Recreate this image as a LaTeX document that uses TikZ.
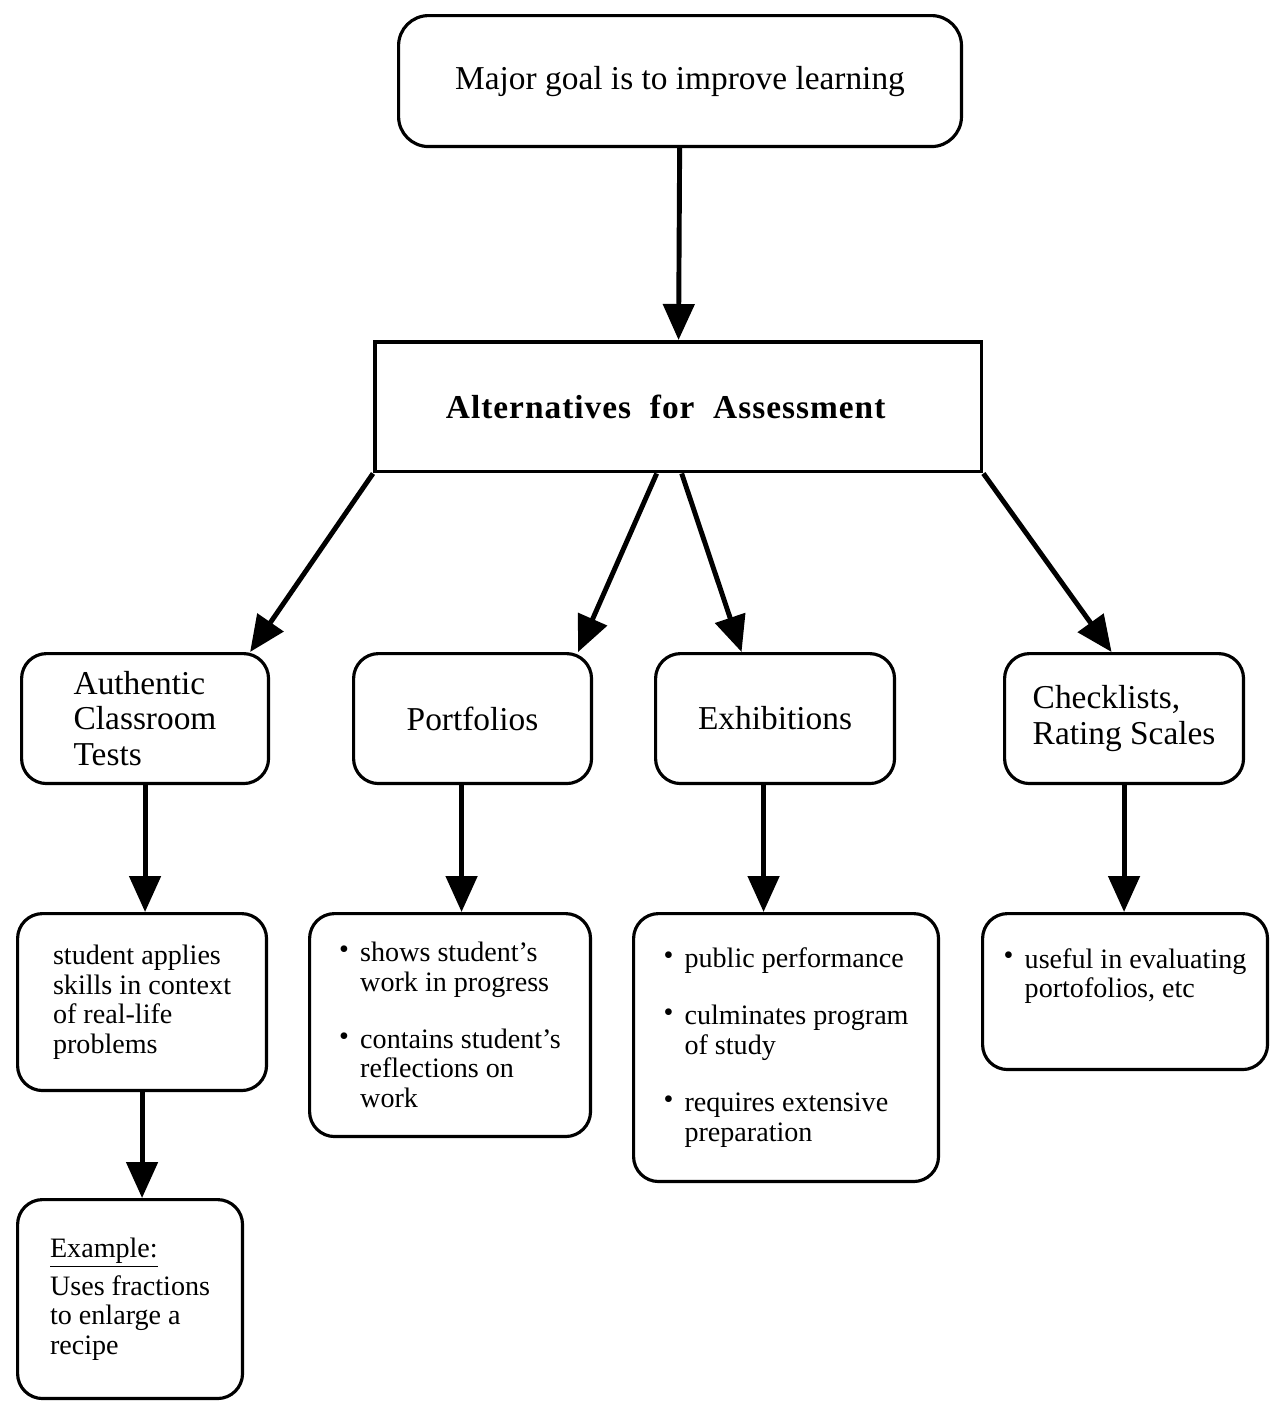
\documentclass[tikz,border=0pt]{standalone}
\usepackage{fontspec}
\setmainfont{Liberation Serif}
\usetikzlibrary{arrows.meta,positioning}
\tikzset{every picture/.style={line width=0.75pt}}

\newcommand{\bul}{\makebox[0.42cm][l]{\raisebox{0.25ex}{\textbullet}}}
\newcommand{\ind}{\hspace*{0.42cm}}

\begin{document}
\begin{tikzpicture}[x=0.02cm, y=-0.02cm,
    rbox/.style={draw, line width=1.8pt, rounded corners=0.5cm, anchor=north west, align=left, inner sep=0pt},
    big/.style={font=\fontsize{19}{20}\selectfont},
    small/.style={font=\fontsize{16}{16.8}\selectfont},
    arr/.style={-{Triangle[length=0.72cm,width=0.62cm]}, line width=2.8pt}]
    \useasboundingbox (0,0) rectangle (1272,1407);

    \node[rbox, big, rounded corners=0.6cm, minimum width=11.26cm, minimum height=2.62cm] (goal) at (397,14) {Major goal is to improve learning};
    \node[rbox, rounded corners=0pt, line width=2pt, minimum width=12.14cm, minimum height=2.6cm,
          font=\fontsize{19}{20}\selectfont\bfseries\addfontfeature{LetterSpace=3}] (alt) at (373,340) {Alternatives\ \ for\ \ Assessment\hspace*{0.5cm}};

    \node[rbox, big, minimum width=4.94cm, minimum height=2.6cm] (auth) at (20,652) {Authentic\\Classroom\\Tests};
    \node[rbox, big, minimum width=4.76cm, minimum height=2.6cm] (port) at (352,652) {Portfolios};
    \node[rbox, big, minimum width=4.78cm, minimum height=2.6cm] (exh) at (654,652) {Exhibitions};
    \node[rbox, big, minimum width=4.78cm, minimum height=2.6cm] (check) at (1003,652) {Checklists,\\Rating Scales};

    \node[rbox, small, minimum width=4.98cm, minimum height=3.54cm] (appl) at (16,912)
        {student applies\\skills in context\\of real-life\\problems};
    \node[rbox, small, minimum width=5.62cm, minimum height=4.46cm] (shows) at (308,912)
        {\bul shows student's\\\ind work in progress\\[0.55cm]\bul contains student's\\\ind reflections on\\\ind work};
    \node[rbox, small, minimum width=6.1cm, minimum height=5.36cm] (pub) at (632,912)
        {\bul public performance\\[0.55cm]\bul culminates program\\\ind of study\\[0.55cm]\bul requires extensive\\\ind preparation};
    \node[rbox, small, minimum width=5.7cm, minimum height=3.12cm] (use) at (981,912)
        {\bul useful in evaluating\\\ind portofolios, etc\\[0.15cm]\mbox{}};
    \node[rbox, small, minimum width=4.5cm, minimum height=3.98cm] (ex) at (16,1198)
        {\underline{Example:}\\[0.16cm]Uses fractions\\to enlarge a\\recipe};

    \draw[arr] (goal) -- (alt);
    \draw[arr] (alt.south west) -- ([xshift=-0.4cm]auth.north east);
    \draw[arr] ([xshift=-0.43cm]alt.south) -- ([xshift=-0.3cm]port.north east);
    \draw[arr] ([xshift=0.07cm]alt.south) -- ([xshift=-0.67cm]exh.north);
    \draw[arr] (alt.south east) -- ([xshift=-0.25cm]check.north);

    \draw[arr] (auth.south) -- (auth.south |- appl.north);
    \draw[arr] ([xshift=-0.22cm]port.south) -- ([xshift=-0.22cm]port.south |- shows.north);
    \draw[arr] ([xshift=-0.23cm]exh.south) -- ([xshift=-0.23cm]exh.south |- pub.north);
    \draw[arr] (check.south) -- (check.south |- use.north);
    \draw[arr] (appl.south) -- (appl.south |- ex.north);
\end{tikzpicture}
\end{document}
